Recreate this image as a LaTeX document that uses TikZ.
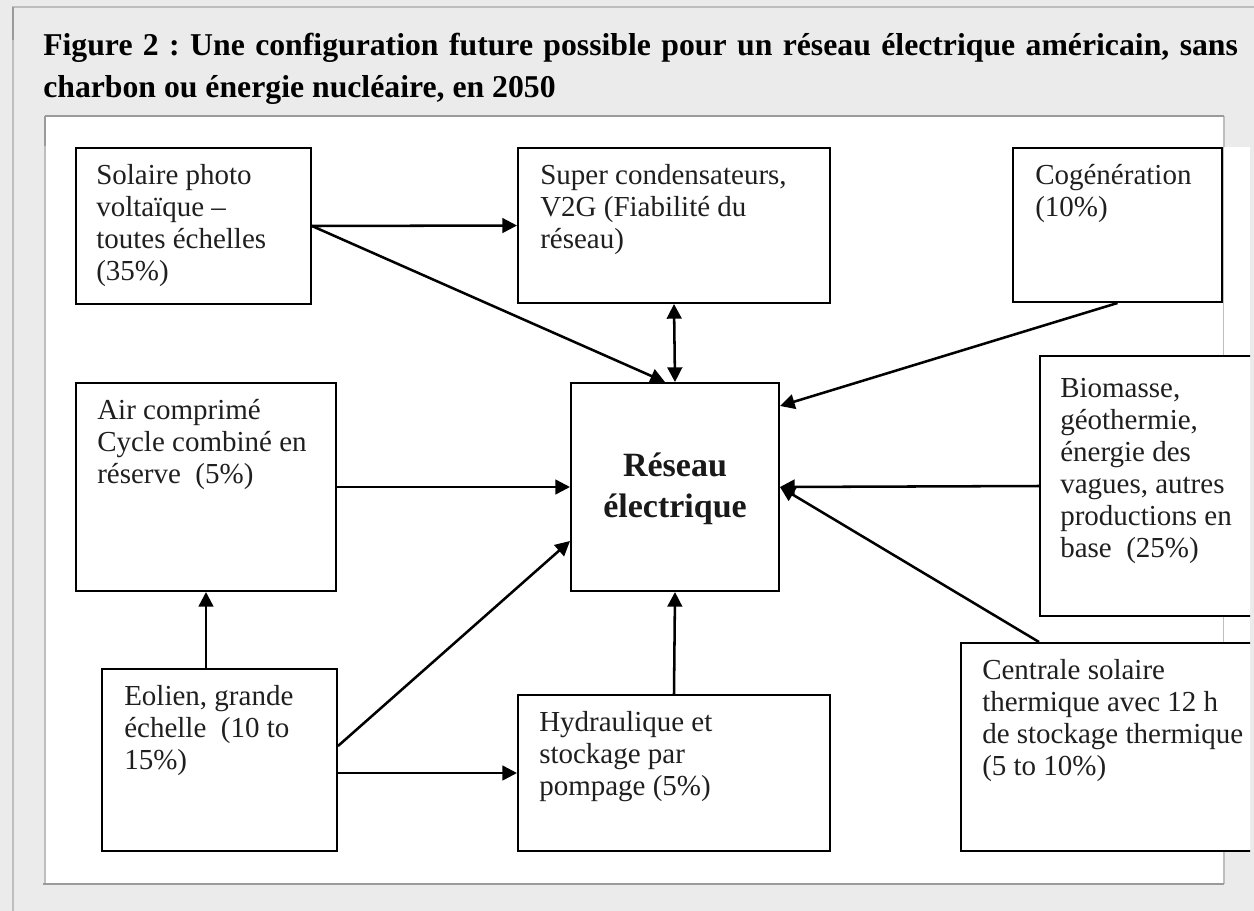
\documentclass[tikz,border=0pt]{standalone}
\usepackage{fontspec}
\setmainfont{Liberation Serif}
\usetikzlibrary{arrows.meta,fit,calc}
\definecolor{bggray}{HTML}{EBEBEB}
\definecolor{edgedark}{HTML}{9A9A9A}
\definecolor{edgelight}{HTML}{BEBEBE}
\frenchspacing
\hbadness=10000
\begin{document}
\begin{tikzpicture}[x=0.75pt,y=-0.75pt,
  box/.style={draw=black, line width=1.5pt, fill=white, inner sep=0pt},
  txt/.style={anchor=north west, align=left, inner sep=0pt, font=\fontsize{21.75}{24}\selectfont, text=black!88},
  arr/.style={line width=1.9pt, -{Triangle[length=11pt,width=11pt]}},
  arrboth/.style={line width=1.9pt, {Triangle[length=11pt,width=11pt]}-{Triangle[length=11pt,width=11pt]}},
  ttl/.style={anchor=base west, inner sep=0pt, font=\fontsize{23.8}{31.5}\selectfont\bfseries}
]
\useasboundingbox (0,0) rectangle (1254,911);
% page background
\fill[bggray] (0,0) rectangle (1254,911);
\draw[edgelight, line width=0.9pt] (13,911) -- (13,7) -- (1254,7);
\draw[edgedark, line width=0.9pt] (13,40) -- (13,7);
% title
\node[ttl] (t1) at (43,55) {\hbox to 896pt{Figure 2 : Une configuration future possible pour un réseau électrique américain, sans}};
\node[ttl] (t2) at (43,97.5) {charbon ou énergie nucléaire, en 2050};
% white panel
\fill[white] (45,116) rectangle (1224,884);
\draw[edgelight, line width=1.1pt] (45,884) -- (45,116);
\draw[edgelight, line width=1.1pt] (1224,116) -- (1224,884);
\draw[edgedark, line width=1.5pt] (43,884) -- (1224,884);
\draw[edgedark, line width=1.5pt] (45,116) -- (1224,116);
\draw[edgedark, line width=1.1pt] (45,116) -- (45,146);
\fill[white] (1224,147) rectangle (1250,852);

\begin{scope}
\clip (0,0) rectangle (1250,911);
% boxes
\node[box, fit={(76,148)(311,304)}] (sol) {};
\node[box, fit={(518,148)(830,303)}] (sup) {};
\node[box, fit={(1013,148)(1222,302)}] (cog) {};
\node[box, fit={(76,383)(336,591)}] (air) {};
\node[box, fit={(571,383)(779,591)}] (res) {};
\node[box, fit={(1040,356)(1264,616)}] (bio) {};
\node[box, fit={(961,643)(1264,851)}] (cen) {};
\node[box, fit={(102,669)(337,851)}] (eol) {};
\node[box, fit={(518,695)(830,851)}] (hyd) {};
% texts
\node[txt] (solT) at ($(sol.north west)+(21,14.6)$) {\strut Solaire photo\\voltaïque –\\toutes échelles\\(35\%)};
\node[txt] (supT) at ($(sup.north west)+(23,14.6)$) {\strut Super condensateurs,\\V2G (Fiabilité du\\réseau)};
\node[txt] (cogT) at ($(cog.north west)+(23,14.6)$) {\strut Cogénération\\(10\%)};
\node[txt] (airT) at ($(air.north west)+(22,14.6)$) {\strut Air comprimé\\Cycle combiné en\\réserve\ \ (5\%)};
\node[txt] (bioT) at ($(bio.north west)+(21,19.6)$) {\strut Biomasse,\\géothermie,\\énergie des\\vagues, autres\\productions en\\base\ \ (25\%)};
\node[txt] (cenT) at ($(cen.north west)+(22,14.6)$) {\strut Centrale solaire\\thermique avec 12 h\\de stockage thermique\\(5 to 10\%)};
\node[txt] (eolT) at ($(eol.north west)+(23,14.6)$) {\strut Eolien, grande\\échelle\ \ (10 to\\15\%)};
\node[txt] (hydT) at ($(hyd.north west)+(22,14.6)$) {\strut Hydraulique et\\stockage par\\pompage (5\%)};
\node[align=center, inner sep=0pt, font=\fontsize{25.5}{30.75}\selectfont\bfseries, text=black!90] (resT) at ($(res.center)+(0,2)$) {Réseau\\électrique};
% connectors
\draw[arr] (sol.east) -- (sup.west);
\draw[arr] (sol.east) -- ($(res.north)+(-10,0)$);
\draw[arrboth] (sup.south) -- (res.north);
\draw[arr] (cog.south) -- ($(res.north east)+(0,24)$);
\draw[arr] (air.east) -- (res.west);
\draw[arr] (bio.west) -- (res.east);
\draw[arr] ($(cen.north west)+(79,0)$) -- ($(res.north east)+(0,105)$);
\draw[arr] (eol.north -| air.south) -- (air.south);
\draw[arr] ($(eol.north east)+(0,78)$) -- ($(res.north west)+(0,159)$);
\draw[arr] (eol.east |- hyd.west) -- (hyd.west);
\draw[arr] (hyd.north) -- (res.south);
\end{scope}
\end{tikzpicture}
\end{document}
